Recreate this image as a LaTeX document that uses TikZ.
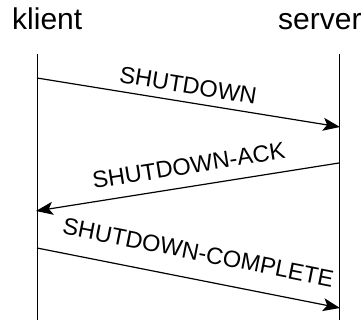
\documentclass[tikz,border=0pt]{standalone}
\usepackage{fontspec}
\setmainfont{Liberation Sans}
\usetikzlibrary{arrows.meta}
\begin{document}
\begin{tikzpicture}[x=1pt,y=-1pt,
  party/.style={anchor=base west,inner sep=0pt,font=\fontsize{30}{30}\selectfont},
  lifeline/.style={line width=1pt},
  msg/.style={line width=1.2pt,-{Stealth[length=17pt,width=13pt,inset=4pt]}},
  msglabel/.style={sloped,inner sep=0pt,font=\fontsize{23.5}{23.5}\selectfont}]
  \useasboundingbox (0,0) rectangle (364,320);
  % participants
  \node[party] (klient) at (12,30) {klient};
  \node[party] (server) at (278,30) {server};
  % lifelines
  \coordinate (kt) at (37,54);
  \coordinate (kb) at (37,320);
  \coordinate (st) at (339,54);
  \coordinate (sb) at (339,320);
  \draw[lifeline] (kt) -- (kb);
  \draw[lifeline] (st) -- (sb);
  % message end points
  \coordinate (m1a) at (37,78);
  \coordinate (m1b) at (340,127);
  \coordinate (m2a) at (339,163);
  \coordinate (m2b) at (36,211);
  \coordinate (m3a) at (37,248);
  \coordinate (m3b) at (340,308);
  % messages
  \draw[msg] (m1a) -- node[msglabel,pos=0.49,above=8pt] {SHUTDOWN} (m1b);
  \draw[msg] (m2a) -- node[msglabel,pos=0.485,above=12pt] {SHUTDOWN-ACK} (m2b);
  \draw[msg] (m3a) -- node[msglabel,pos=0.515,above=18pt] {SHUTDOWN-COMPLETE} (m3b);
\end{tikzpicture}
\end{document}
